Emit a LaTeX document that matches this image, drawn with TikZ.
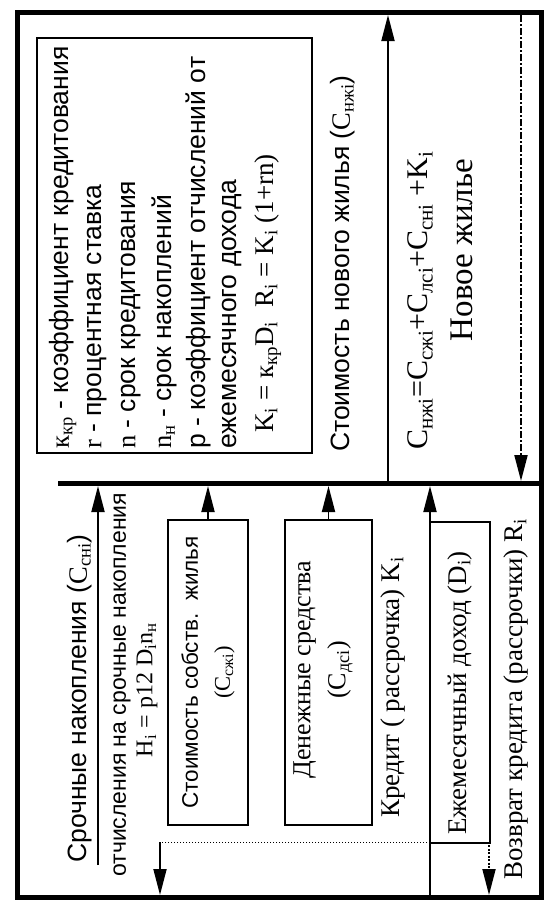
\documentclass[tikz,border=0pt]{standalone}
\usepackage{fontspec}
\setmainfont{Liberation Serif}
\setsansfont{Liberation Sans}
\usetikzlibrary{arrows.meta}
\newcommand{\sbs}[1]{\textsubscript{#1}}
\tikzset{
  every node/.style={inner sep=0pt},
  vt/.style={rotate=90, anchor=west},
  vc/.style={rotate=90, anchor=center},
  sansA/.style={font=\sffamily\fontsize{26.5}{30}\selectfont},
  sansB/.style={font=\sffamily\fontsize{23}{26}\selectfont},
  serA/.style={font=\rmfamily\fontsize{27}{30}\selectfont},
  serB/.style={font=\rmfamily\fontsize{30}{34}\selectfont},
  serD/.style={font=\rmfamily\fontsize{33}{36}\selectfont},
  serC/.style={font=\rmfamily\fontsize{24}{28}\selectfont},
  boxx/.style={draw, line width=2pt},
  frame/.style={line width=5pt},
  rule/.style={line width=5pt},
  arr/.style={line width=1.8pt, -{Triangle[length=26pt,width=13pt]}},
  dotarr/.style={line width=1.8pt, dash pattern=on 2pt off 1.5pt, -{Triangle[length=26pt,width=13pt]}},
  dashdot/.style={line width=2pt, dash pattern=on 7pt off 2pt on 2pt off 2pt, -{Triangle[length=26pt,width=13pt]}},
  fine/.style={line width=1pt, dash pattern=on 1.5pt off 1.5pt}
}
\begin{document}
\begin{tikzpicture}[x=1pt,y=-1pt]
\useasboundingbox (0,0) rectangle (546,900);
% frame and rule
\draw[frame] (17,12) rectangle (541,897);
\coordinate (rl) at (58,483);
\coordinate (rr) at (541,483);
\draw[rule] (rl) -- (rr);

% legend box
\node[boxx, minimum width=275pt, minimum height=415pt] (leg) at (174.5,245.5) {};
\node[vt, sansA] (l1) at (63,449) {{\rmfamily к\sbs{кр}} - коэффициент кредитования};
\node[vt, sansA] (l2) at (97,449) {{\rmfamily r} - процентная ставка};
\node[vt, sansA] (l3) at (131,449) {{\rmfamily n} - срок кредитования};
\node[vt, sansA] (l4) at (164,449) {{\rmfamily n\sbs{н}} - срок накоплений};
\node[vt, sansA] (l5) at (198,449) {р - коэффициент отчислений от};
\node[vt, sansA] (l6) at (232,449) {ежемесячного дохода};
\node[vt, serA] (l7) at (268,433) {K\sbs{i} = к\sbs{кр}D\sbs{i}\ \ R\sbs{i} = K\sbs{i} (1+rn)};

% top right part
\node[vt, sansA] (snj) at (343,452) {Стоимость нового жилья ({\rmfamily С\sbs{нжi}})};
\coordinate (ua) at (388,481);
\coordinate (ub) at (388,15);
\draw[arr] (ua) -- (ub);
\node[vt, serB] (form) at (420,450) {С\sbs{нжi}=С\sbs{сжi}+С\sbs{лсi}+С\sbs{снi} +K\sbs{i}};
\node[vc, serD] (new) at (462,250) {Новое жилье};
\coordinate (da) at (521,15);
\coordinate (db) at (521,481);
\draw[dashdot] (da) -- (db);

% bottom left
\coordinate (sa) at (98,865);
\coordinate (sb) at (98,486);
\draw[arr] (sa) -- (sb);
\node[vt, sansA] (sn) at (80,863) {Срочные накопления ({\rmfamily С\sbs{снi}})};
\node[vt, sansB] (otch) at (122,877) {отчисления на срочные накопления};
\node[vc, serC] (hf) at (147,690) {Н\sbs{i} = p12 D\sbs{i}n\sbs{н}};

\node[boxx, minimum width=80pt, minimum height=305pt] (b1) at (208,672.5) {};
\node[vc, align=center, font=\sffamily\fontsize{22.5}{32}\selectfont] (b1t) at (b1) {Стоимость собств.\ \ жилья\\{\rmfamily (С\sbs{сжi})}};
\draw[arr] (b1.north) -- (b1.north |- sb);

\node[boxx, minimum width=87pt, minimum height=305pt] (b2) at (328.5,672.5) {};
\node[vc, align=center, font=\rmfamily\fontsize{26}{35}\selectfont] (b2t) at (323,670) {Денежные средства\\(С\sbs{дсi})};
\draw[arr] (b2.north) -- (b2.north |- sb);

\node[vt, serA] (kr) at (393,818) {Кредит ( рассрочка) K\sbs{i}};

\coordinate (ka) at (430,897);
\coordinate (kb) at (430,486);
\draw[arr] (ka) -- (kb);
\node[boxx, minimum width=60pt, minimum height=321pt] (b3) at (460,682.5) {};
\node[vt, serA] (inc) at (460,835) {Ежемесячный доход (D\sbs{i})};
\node[vt, serA] (ret) at (516,880) {Возврат кредита (рассрочки) R\sbs{i}};
\coordinate (ra) at (489,845);
\coordinate (rb) at (489,895);
\draw[dotarr] (ra) -- (rb);

% dotted return line
\coordinate (pa) at (430,842);
\coordinate (pb) at (160,842);
\coordinate (pc) at (160,895);
\draw[fine] (pa) -- (pb);
\draw[arr] (pb) -- (pc);
\end{tikzpicture}
\end{document}
